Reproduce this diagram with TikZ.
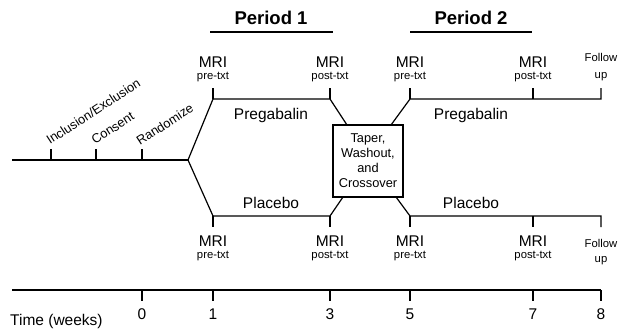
\documentclass[tikz,border=0pt]{standalone}
\usepackage{fontspec}
\setmainfont{Liberation Sans}
\begin{document}
\begin{tikzpicture}[x=1pt,y=-1pt,
  ln/.style={line width=1.2pt, black},
  per/.style={font=\fontsize{18.5}{20}\selectfont\bfseries, anchor=base, inner sep=0pt},
  big/.style={font=\fontsize{15.5}{17}\selectfont, anchor=base, inner sep=0pt},
  sml/.style={font=\fontsize{11.3}{13}\selectfont, anchor=base, inner sep=0pt},
  rot/.style={font=\fontsize{12.8}{14}\selectfont, anchor=base west, inner sep=0pt, rotate=33},
  boxnode/.style={draw, line width=1.2pt, minimum width=70pt, minimum height=72pt, inner sep=0pt, align=center, font=\fontsize{12.8}{15}\selectfont}
]
\useasboundingbox (0,0) rectangle (618,329);
% main timeline coordinates
\coordinate (start) at (12,160);
\coordinate (branch) at (188,160);
\coordinate (tA) at (51,160); \coordinate (tAt) at (51,149);
\coordinate (tB) at (96,160); \coordinate (tBt) at (96,149);
\coordinate (tC) at (142,160); \coordinate (tCt) at (142,149);
\draw[ln] (start) -- (branch);
\draw[ln] (tA) -- (tAt);
\draw[ln] (tB) -- (tBt);
\draw[ln] (tC) -- (tCt);
\node[rot] (lincl) at (50,145) {Inclusion/Exclusion};
\node[rot] (lcons) at (95,145) {Consent};
\node[rot] (lrand) at (140,146) {Randomize};
% box
\node[boxnode] (box) at (368,161) {Taper,\\Washout,\\and\\Crossover};
% upper arm
\coordinate (u1) at (213,99); \coordinate (u1t) at (213,88);
\coordinate (u3) at (330,99); \coordinate (u3t) at (330,88);
\coordinate (u5) at (410,99); \coordinate (u5t) at (410,88);
\coordinate (u7) at (533,99); \coordinate (u7t) at (533,88);
\coordinate (u8) at (601,99); \coordinate (u8t) at (601,88);
\coordinate (bul) at (347,125); \coordinate (bur) at (391,125);
\draw[ln] (branch) -- (u1) -- (u3) -- (bul);
\draw[ln] (bur) -- (u5) -- (u8) -- (u8t);
\draw[ln] (u1) -- (u1t);
\draw[ln] (u3) -- (u3t);
\draw[ln] (u5) -- (u5t);
\draw[ln] (u7) -- (u7t);
% lower arm
\coordinate (l1) at (213,216); \coordinate (l1t) at (213,227);
\coordinate (l3) at (330,216); \coordinate (l3t) at (330,227);
\coordinate (l5) at (410,216); \coordinate (l5t) at (410,227);
\coordinate (l7) at (533,216); \coordinate (l7t) at (533,227);
\coordinate (l8) at (601,216); \coordinate (l8t) at (601,227);
\coordinate (bll) at (343,197); \coordinate (blr) at (396,197);
\draw[ln] (branch) -- (l1) -- (l3) -- (bll);
\draw[ln] (blr) -- (l5) -- (l8) -- (l8t);
\draw[ln] (l1) -- (l1t);
\draw[ln] (l3) -- (l3t);
\draw[ln] (l5) -- (l5t);
\draw[ln] (l7) -- (l7t);
% arm labels
\node[big] (preg1) at (271,119) {Pregabalin};
\node[big] (preg2) at (471,119) {Pregabalin};
\node[big] (plac1) at (271,208) {Placebo};
\node[big] (plac2) at (471,208) {Placebo};
% upper MRI labels
\node[big] (mu1) at (213,67) {MRI}; \node[sml] (su1) at (213,79) {pre-txt};
\node[big] (mu3) at (330,67) {MRI}; \node[sml] (su3) at (330,79) {post-txt};
\node[big] (mu5) at (410,67) {MRI}; \node[sml] (su5) at (410,79) {pre-txt};
\node[big] (mu7) at (533,67) {MRI}; \node[sml] (su7) at (533,79) {post-txt};
\node[sml] (fu8) at (601,62) {Follow}; \node[sml] (fu8b) at (601,78) {up};
% lower MRI labels
\node[big] (ml1) at (213,246) {MRI}; \node[sml] (sl1) at (213,258) {pre-txt};
\node[big] (ml3) at (330,246) {MRI}; \node[sml] (sl3) at (330,258) {post-txt};
\node[big] (ml5) at (410,246) {MRI}; \node[sml] (sl5) at (410,258) {pre-txt};
\node[big] (ml7) at (533,246) {MRI}; \node[sml] (sl7) at (533,258) {post-txt};
\node[sml] (fl8) at (601,247) {Follow}; \node[sml] (fl8b) at (601,262) {up};
% periods
\node[per] (p1) at (271,25) {Period 1};
\node[per] (p2) at (471,25) {Period 2};
\coordinate (p1a) at (210,32); \coordinate (p1b) at (333,32);
\coordinate (p2a) at (410,32); \coordinate (p2b) at (532,32);
\draw[ln] (p1a) -- (p1b);
\draw[ln] (p2a) -- (p2b);
% time axis
\coordinate (ta) at (12,290); \coordinate (tb) at (601,290);
\draw[ln] (ta) -- (tb);
\foreach \x/\n in {142/0,213/1,330/3,410/5,533/7,601/8}{
  \coordinate (w\n) at (\x,290);
  \coordinate (w\n b) at (\x,301);
  \draw[ln] (w\n) -- (w\n b);
  \node[big] (n\n) at (\x,319) {\n};
}
\node[big, anchor=base west] (time) at (10,325) {Time (weeks)};
\end{tikzpicture}
\end{document}
